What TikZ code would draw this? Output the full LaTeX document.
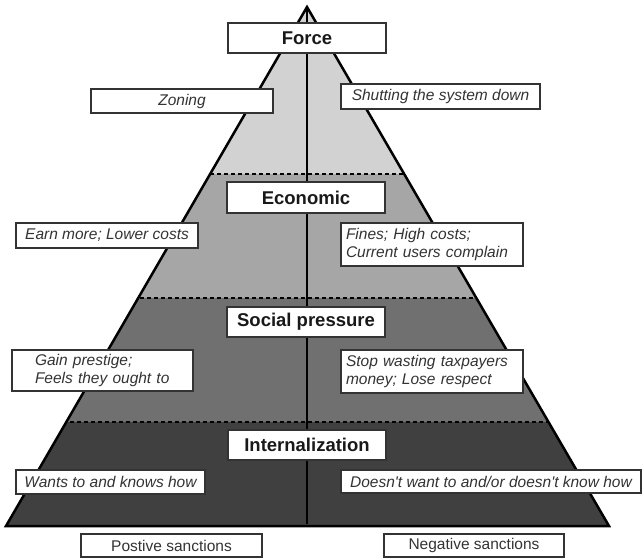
\documentclass[tikz,border=0pt]{standalone}
\usepackage{fontspec}
\setmainfont{Liberation Sans}
\begin{document}
\begin{tikzpicture}[x=1pt,y=-1pt,
  box/.style={draw=black!80,line width=1.2pt,fill=white,inner sep=0pt,text=black!80},
  levelbox/.style={box,minimum width=158pt,minimum height=30pt,font=\fontsize{18.5}{20}\selectfont\bfseries,text=black!90},
  notebox/.style={box,font=\fontsize{15.5}{18}\selectfont\itshape},
  sanctbox/.style={box,minimum height=23pt,font=\fontsize{15.5}{18}\selectfont},
  bandline/.style={line width=2pt,dash pattern=on 4pt off 3pt,black}]
\useasboundingbox (0,0) rectangle (642,559);
\coordinate (apex) at (307,7);
\coordinate (bl) at (6,526);
\coordinate (br) at (609,526);
\coordinate (bm) at (307,524);
\begin{scope}
  \clip (apex) -- (bl) -- (br) -- cycle;
  \fill[gray!35] (0,0) rectangle (642,174);
  \fill[gray!70] (0,174) rectangle (642,298);
  \fill[black!56] (0,298) rectangle (642,422);
  \fill[black!75] (0,422) rectangle (642,530);
  \draw[bandline] (0,174) -- (642,174);
  \draw[bandline] (0,298) -- (642,298);
  \draw[bandline] (0,422) -- (642,422);
\end{scope}
\draw[line width=2pt] (apex) -- (bm);
\draw[line width=2.5pt,line join=miter] (apex) -- (bl) -- (br) -- cycle;
% level boxes
\node[levelbox] (force) at (307,38) {Force};
\node[levelbox,minimum height=31pt] (econ) at (306,197.5) {Economic};
\node[levelbox] (social) at (306,322) {Social pressure};
\node[levelbox] (intern) at (307,445) {Internalization};
% note boxes
\node[notebox,minimum width=182pt,minimum height=24pt] (zoning) at (182,101) {Zoning};
\node[notebox,minimum width=199pt,minimum height=25pt] (shut) at (440.5,96.5) {Shutting the system down};
\node[notebox,minimum width=182pt,minimum height=25pt] (earn) at (107,235.5) {Earn more; Lower costs};
\node[notebox,minimum width=182pt,minimum height=43pt,align=left,text width=172pt] (fines) at (432,244.5) {Fines; High costs;\\Current users complain};
\node[notebox,minimum width=181pt,minimum height=41pt,align=left,text width=135pt] (gain) at (102.5,370.5) {Gain prestige;\\Feels they ought to};
\node[notebox,minimum width=182pt,minimum height=43pt,align=left,text width=172pt] (stop) at (432,371.5) {Stop wasting taxpayers\\money; Lose respect};
\node[notebox,minimum width=189pt,minimum height=24pt] (wants) at (110.5,482) {Wants to and knows how};
\node[notebox,minimum width=300pt,minimum height=23pt] (doesnt) at (491,481.5) {Doesn\textquotesingle t want to and/or doesn\textquotesingle t know how};
% sanctions
\node[sanctbox,minimum width=181pt] (pos) at (171.5,545.5) {Postive sanctions};
\node[sanctbox,minimum width=180pt] (neg) at (474,545.5) {Negative sanctions};
\end{tikzpicture}
\end{document}
